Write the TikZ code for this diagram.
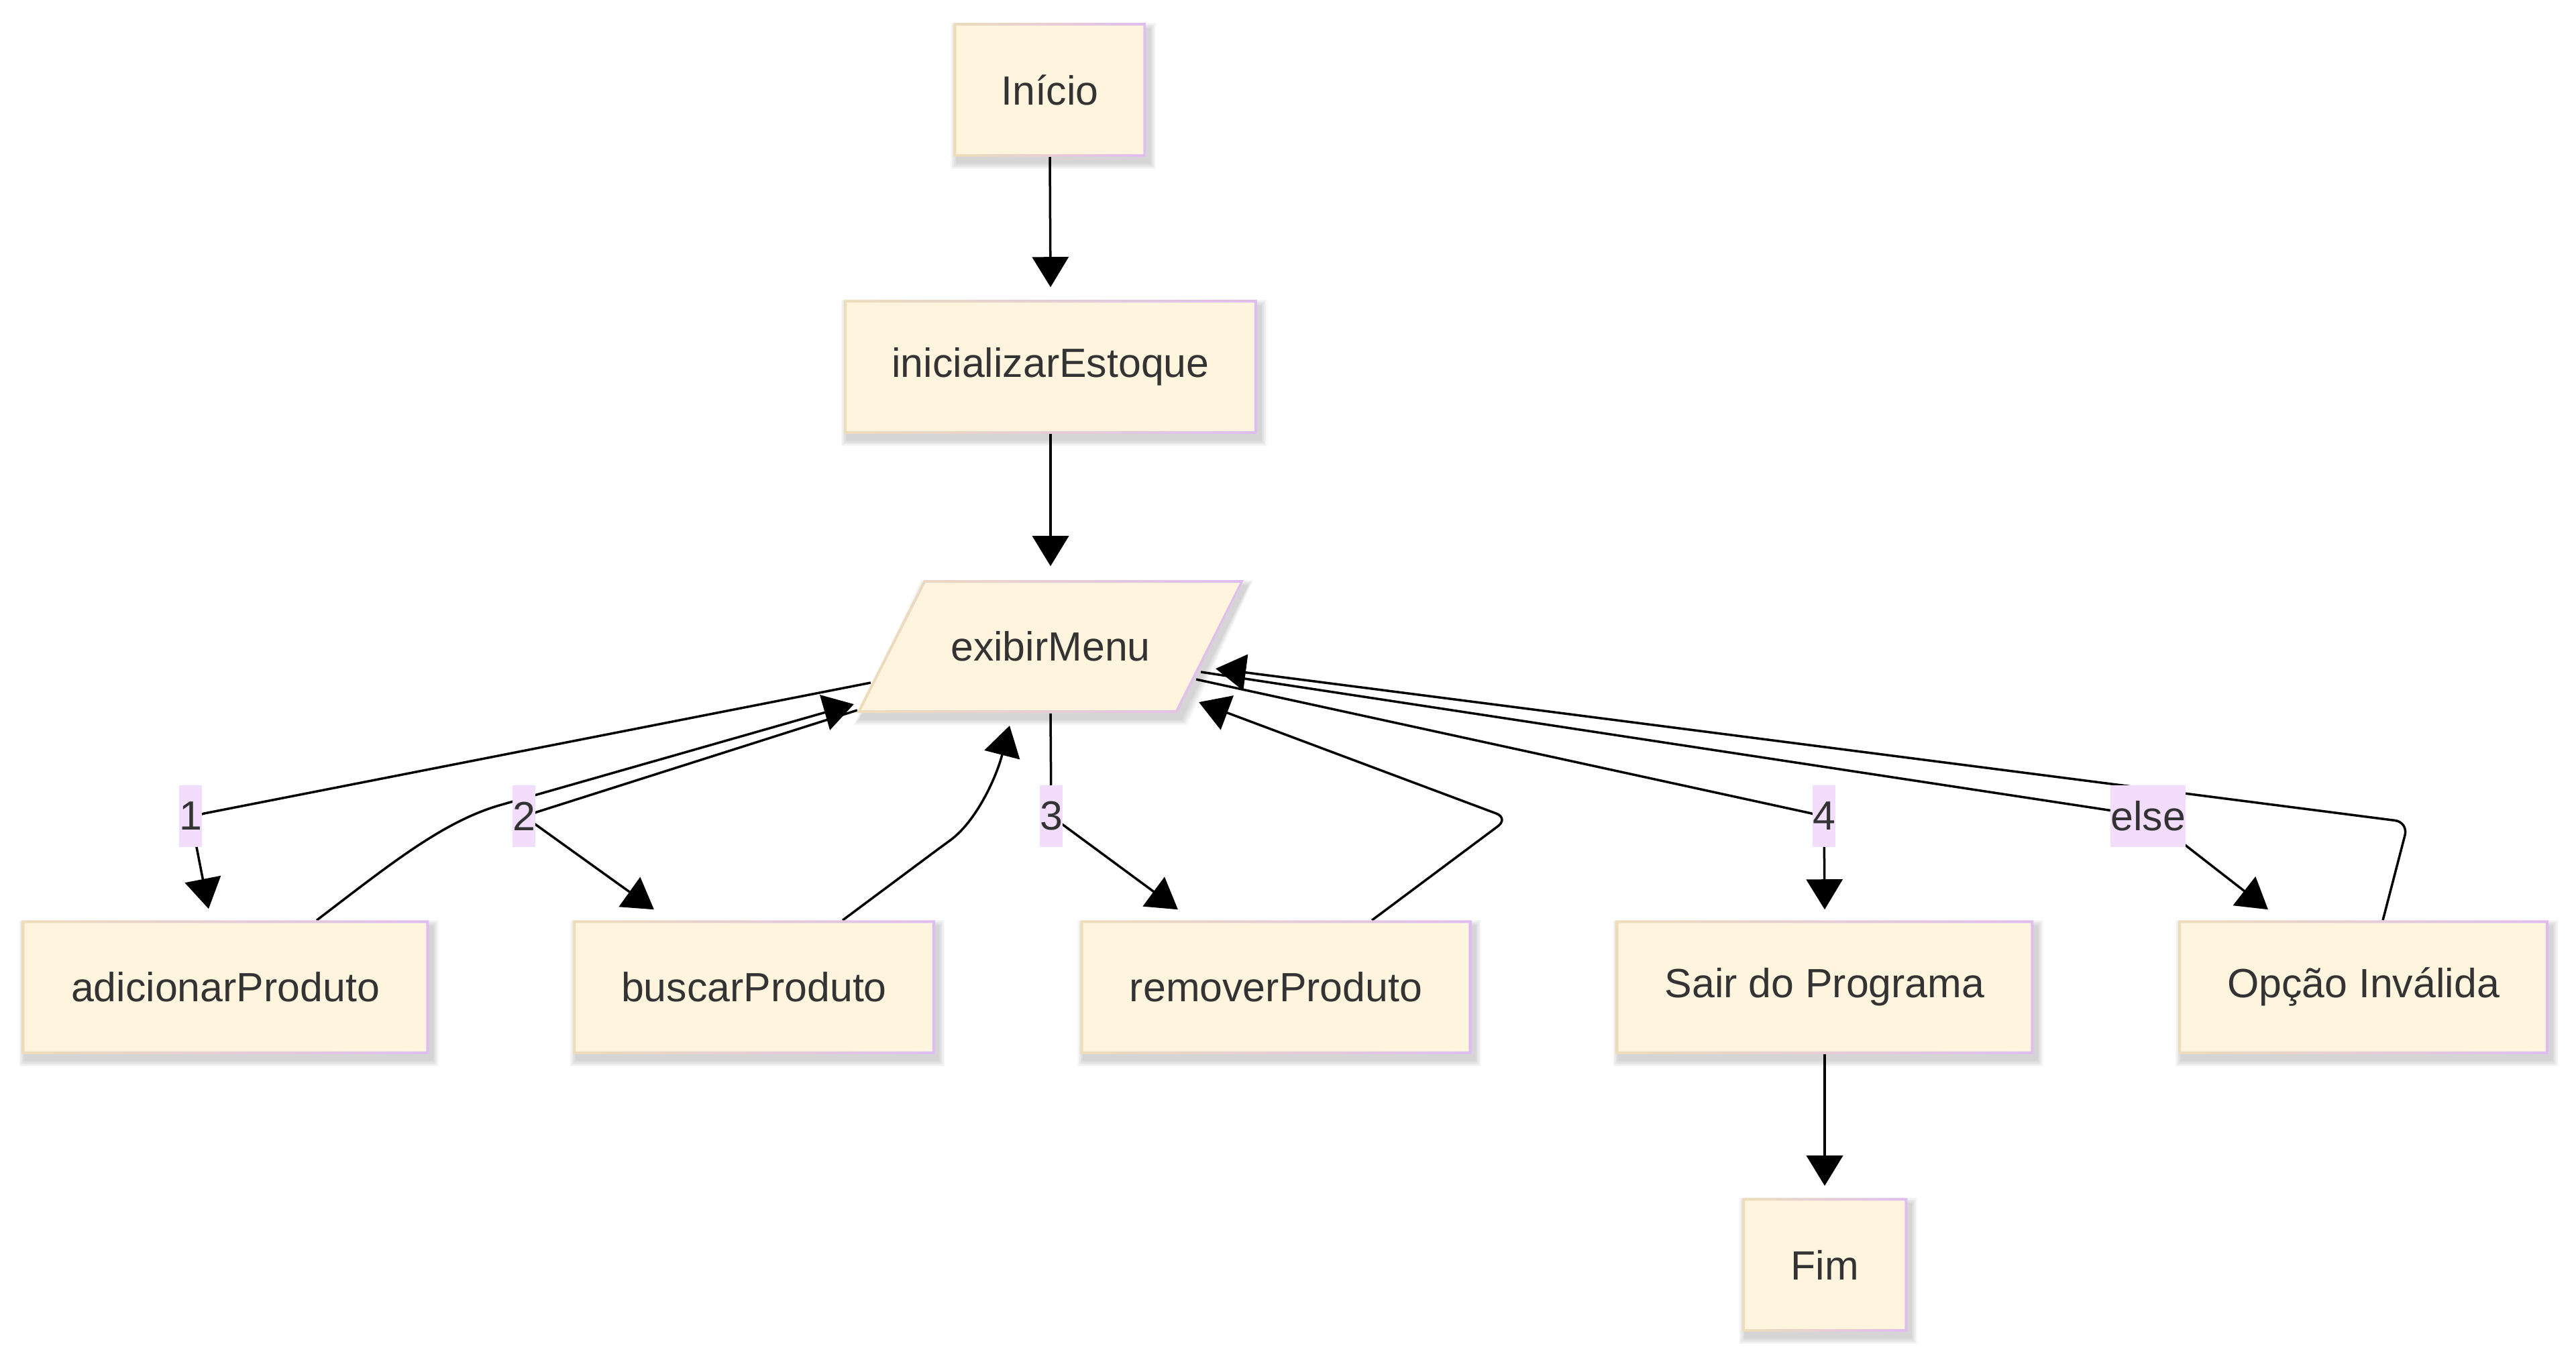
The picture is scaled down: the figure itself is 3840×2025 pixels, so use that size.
\documentclass[tikz,border=0pt]{standalone}
\usepackage{fontspec}
\setmainfont{Liberation Sans}
\usetikzlibrary{arrows.meta}
\definecolor{boxfill}{HTML}{FFF4DD}
\definecolor{bordL}{HTML}{EDDDBA}
\definecolor{bordR}{HTML}{DFBDF0}
\definecolor{lblbg}{HTML}{F3DDFD}
\definecolor{txt}{HTML}{333333}
\pgfdeclarelayer{bg}
\pgfdeclarelayer{edges}
\pgfdeclarelayer{shadow}
\pgfsetlayers{bg,edges,shadow,main}
\begin{document}
\begin{tikzpicture}[x=0.01cm,y=-0.01cm,
  box/.style={rectangle, fill=boxfill, text=txt, font=\fontsize{17.3}{20}\selectfont, minimum height=1.98cm, inner sep=0pt},
  plain/.style={rectangle, text=txt, font=\fontsize{17.3}{20}\selectfont, minimum height=1.98cm, inner sep=0pt},
  lbl/.style={rectangle, fill=lblbg, text=txt, font=\fontsize{17.3}{20}\selectfont, minimum height=0.91cm, inner xsep=0pt, inner ysep=0pt},
  shadowpiece/.style={fill=black, opacity=0.028},
  ln/.style={draw=black, line width=0.035cm, rounded corners=0.2cm},
  arr/.style={ln, -{Triangle[length=0.45cm,width=0.54cm]}}
]
\useasboundingbox (0,0) rectangle (3840,2025);
\begin{pgfonlayer}{bg}
\fill[white] (0,0) rectangle (3840,2025);
\end{pgfonlayer}

% boxes
\node[box, minimum width=2.85cm] (inicio) at (1565,134) {Início};
\node[box, minimum width=6.14cm] (ini) at (1566,547) {inicializarEstoque};
\path[fill=boxfill] (1377,865) -- (1854,865) -- (1755,1063) -- (1277,1063) -- cycle;
\shade[left color=bordL, right color=bordR, even odd rule]
  (1377,865) -- (1854,865) -- (1755,1063) -- (1277,1063) -- cycle
  (1379.5,869) -- (1848.5,869) -- (1752.5,1059) -- (1283.5,1059) -- cycle;
\node[plain, minimum width=4.78cm] (exibir) at (1566,964) {exibirMenu};
\node[box, minimum width=6.05cm] (add) at (336,1472) {adicionarProduto};
\node[box, minimum width=5.38cm] (busca) at (1124,1472) {buscarProduto};
\node[box, minimum width=5.81cm] (rem) at (1902,1472) {removerProduto};
\node[box, minimum width=6.21cm] (sair) at (2720,1472) {Sair do Programa};
\node[box, minimum width=5.50cm] (opc) at (3523,1472) {Opção Inválida};
\node[box, minimum width=2.45cm] (fim) at (2720,1886) {Fim};
\foreach \n in {inicio,ini,add,busca,rem,sair,opc,fim}{
  \shade[left color=bordL, right color=bordR, even odd rule]
    (\n.south west) rectangle (\n.north east)
    ([xshift=0.04cm,yshift=0.04cm]\n.south west) rectangle ([xshift=-0.04cm,yshift=-0.04cm]\n.north east);
  \begin{pgfonlayer}{shadow}
  \foreach \k in {1,...,6}{
    \fill[shadowpiece] ([xshift={0.05cm-\k*0.016cm}, yshift={-0.09cm-\k*0.016cm}]\n.south west) rectangle ([xshift={0.05cm+\k*0.016cm}, yshift={-0.09cm+\k*0.016cm}]\n.north east);
  }
  \end{pgfonlayer}
}
\begin{pgfonlayer}{shadow}
\foreach \k in {1,...,6}{
  \fill[shadowpiece, xshift=0.05cm, yshift=-0.09cm]
    ({1377-1.6*\k},{865-1.6*\k}) -- ({1854+1.6*\k},{865-1.6*\k}) -- ({1755+1.6*\k},{1063+1.6*\k}) -- ({1277-1.6*\k},{1063+1.6*\k}) -- cycle;
}
\end{pgfonlayer}

% edge labels
\node[lbl] (l1) at (284,1217) {1};
\node[lbl] (l2) at (781,1217) {2};
\node[lbl] (l3) at (1567,1217) {3};
\node[lbl] (l4) at (2719,1217) {4};
\node[lbl] (l5) at (3202,1217) {else};

% bend points
\coordinate (kA) at (765,1195);
\coordinate (kB) at (1400,1265);
\coordinate (kR) at (2249,1220);
\coordinate (kO) at (3590,1226);

\begin{pgfonlayer}{edges}
\draw[arr] (inicio.south) -- ([yshift=0.19cm]ini.north);
\draw[arr] (ini.south) -- ([yshift=0.20cm]exibir.north);
% 1
\draw[arr] ([xshift=-2.68cm,yshift=-0.54cm]exibir.center) -- (l1.center) -- ([xshift=-0.25cm,yshift=0.17cm]add.north);
% 2
\draw[arr] ([xshift=-2.88cm,yshift=-0.95cm]exibir.center) -- (l2.center) -- ([xshift=-1.49cm,yshift=0.16cm]busca.north);
% 3
\draw[arr] (exibir.south) -- (l3.center) -- ([xshift=-1.46cm,yshift=0.16cm]rem.north);
% 4
\draw[arr] ([xshift=2.17cm,yshift=-0.49cm]exibir.center) -- (l4.center) -- ([yshift=0.16cm]sair.north);
% else
\draw[arr] ([xshift=2.24cm,yshift=-0.38cm]exibir.center) -- (l5.center) -- ([xshift=-1.42cm,yshift=0.16cm]opc.north);
% returns
\draw[arr] ([xshift=1.36cm]add.north) .. controls (580,1290) and (660,1225) .. (kA) -- ([xshift=-2.93cm,yshift=-0.86cm]exibir.center);
\draw[arr] ([xshift=1.32cm]busca.north) -- (kB) .. controls (1455,1225) and (1485,1160) .. ([xshift=-0.61cm,yshift=-1.18cm]exibir.center);
\draw[arr] ([xshift=1.43cm]rem.north) -- (kR) -- ([xshift=2.21cm,yshift=-0.83cm]exibir.center);
\draw[arr] ([xshift=0.29cm]opc.north) -- (kO) -- ([xshift=2.46cm,yshift=-0.33cm]exibir.center);
\draw[arr] (sair.south) -- ([yshift=0.18cm]fim.north);
\end{pgfonlayer}
\end{tikzpicture}
\end{document}
